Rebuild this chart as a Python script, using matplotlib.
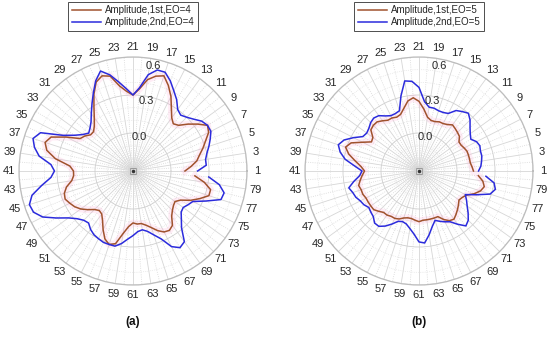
import numpy as np
import matplotlib
matplotlib.use('Agg')
import matplotlib.pyplot as plt

# ---- data ----
positions = np.arange(1, 81)
tick_labels = [str(k) for k in range(1, 80, 2)]
r_ticks = [0.0, 0.3, 0.6]

amp1_eo4 = [0.11, 0.16, 0.21, 0.24, 0.28, 0.32, 0.37, 0.39, 0.33, 0.27,
            0.21, 0.19, 0.22, 0.28, 0.36, 0.43, 0.49, 0.47, 0.43, 0.35,
            0.30, 0.33, 0.38, 0.47, 0.49, 0.46, 0.38, 0.29, 0.22, 0.17,
            0.14, 0.14, 0.17, 0.19, 0.29, 0.40, 0.43, 0.40, 0.32, 0.20,
            0.17, 0.17, 0.19, 0.24, 0.27, 0.28, 0.26, 0.24, 0.21, 0.17,
            0.13, 0.11, 0.12, 0.16, 0.22, 0.28, 0.31, 0.29, 0.20, 0.14,
            0.11, 0.12, 0.12, 0.14, 0.17, 0.21, 0.24, 0.25, 0.23, 0.17,
            0.14, 0.12, 0.11, 0.14, 0.21, 0.27, 0.33, 0.33, 0.27, 0.19]
amp2_eo4 = [0.21, 0.28, 0.28, 0.30, 0.33, 0.36, 0.39, 0.39, 0.37, 0.33,
            0.30, 0.28, 0.30, 0.36, 0.41, 0.47, 0.52, 0.52, 0.47, 0.36,
            0.30, 0.35, 0.41, 0.48, 0.53, 0.47, 0.39, 0.32, 0.26, 0.21,
            0.18, 0.16, 0.19, 0.24, 0.32, 0.49, 0.53, 0.50, 0.45, 0.35,
            0.32, 0.35, 0.43, 0.52, 0.56, 0.55, 0.50, 0.41, 0.33, 0.28,
            0.25, 0.24, 0.27, 0.29, 0.30, 0.31, 0.31, 0.31, 0.28, 0.24,
            0.21, 0.18, 0.17, 0.19, 0.23, 0.28, 0.37, 0.41, 0.39, 0.29,
            0.24, 0.20, 0.19, 0.21, 0.23, 0.32, 0.43, 0.44, 0.39, 0.30]
amp1_eo5 = [0.13, 0.12, 0.11, 0.11, 0.11, 0.11, 0.10, 0.09, 0.09, 0.12,
            0.13, 0.14, 0.15, 0.13, 0.12, 0.12, 0.11, 0.11, 0.13, 0.19,
            0.25, 0.28, 0.26, 0.21, 0.17, 0.16, 0.17, 0.17, 0.19, 0.21,
            0.21, 0.20, 0.15, 0.14, 0.20, 0.28, 0.31, 0.27, 0.21, 0.16,
            0.13, 0.15, 0.17, 0.19, 0.18, 0.18, 0.17, 0.17, 0.17, 0.17,
            0.15, 0.13, 0.13, 0.12, 0.12, 0.11, 0.09, 0.08, 0.08, 0.09,
            0.10, 0.09, 0.09, 0.09, 0.09, 0.09, 0.13, 0.16, 0.17, 0.15,
            0.13, 0.11, 0.09, 0.10, 0.12, 0.17, 0.21, 0.23, 0.21, 0.17]
amp2_eo5 = [0.17, 0.19, 0.20, 0.21, 0.21, 0.22, 0.21, 0.18, 0.20, 0.23,
            0.27, 0.30, 0.28, 0.26, 0.21, 0.20, 0.20, 0.21, 0.21, 0.25,
            0.36, 0.41, 0.42, 0.31, 0.20, 0.19, 0.19, 0.21, 0.24, 0.25,
            0.24, 0.22, 0.21, 0.22, 0.28, 0.34, 0.37, 0.34, 0.29, 0.21,
            0.15, 0.17, 0.22, 0.27, 0.25, 0.24, 0.22, 0.21, 0.19, 0.20,
            0.21, 0.24, 0.24, 0.21, 0.17, 0.13, 0.12, 0.13, 0.16, 0.20,
            0.26, 0.27, 0.21, 0.15, 0.11, 0.13, 0.15, 0.17, 0.22, 0.27,
            0.25, 0.21, 0.17, 0.14, 0.11, 0.19, 0.29, 0.32, 0.30, 0.23]

series_labels_4 = ['Amplitude,1st,EO=4', 'Amplitude,2nd,EO=4']
series_labels_5 = ['Amplitude,1st,EO=5', 'Amplitude,2nd,EO=5']
captions = ['(a)', '(b)']

BROWN = '#a0522d'
BLUE = '#2b2bdc'
TXT = '#262626'

plt.rcParams['font.family'] = ['Liberation Sans', 'DejaVu Sans']

W, H = 550, 337
fig = plt.figure(figsize=(W / 100, H / 100), dpi=100)
R = 114


def make(cx, cy, a1, a2, labels, cap):
    rect = [(cx - R) / W, (H - cy - R) / H, 2 * R / W, 2 * R / H]
    ax = fig.add_axes(rect, projection='polar')
    ax.set_theta_zero_location('E')
    ax.set_theta_direction(1)
    theta = np.deg2rad((positions - 1) * 4.5)

    ax.plot(theta, a1, color='#ff9ecf', lw=5, alpha=0.18, zorder=2)
    l1, = ax.plot(theta, a1, color=BROWN, lw=1.1, label=labels[0], zorder=3)
    l2, = ax.plot(theta, a2, color=BLUE, lw=1.1, label=labels[1], zorder=4)

    ax.set_ylim(-0.3, 0.6)
    ax.set_xticks(np.deg2rad(np.arange(0, 360, 9)))
    ax.set_xticklabels(tick_labels, fontsize=8, color=TXT)
    ax.set_xticks(np.deg2rad(np.arange(4.5, 360, 9)), minor=True)
    ax.set_yticks(r_ticks)
    ax.set_yticklabels([])
    ax.set_yticks([-0.2, -0.1, 0.1, 0.2, 0.4, 0.5], minor=True)
    ax.tick_params(axis='x', which='both', pad=0.5, length=0)
    ax.tick_params(axis='y', which='both', length=0)
    ax.xaxis.grid(True, which='major', color='#d6d6d6', lw=0.6, ls='-')
    ax.xaxis.grid(True, which='minor', color='#d6d6d6', lw=0.6, ls=':')
    ax.yaxis.grid(True, which='major', color='#cfcfcf', lw=0.6, ls='-')
    ax.yaxis.grid(True, which='minor', color='#dcdcdc', lw=0.5, ls=':')
    ax.spines['polar'].set_color('#bdbdbd')
    ax.spines['polar'].set_linewidth(0.9)
    ax.plot([0], [-0.3], marker='s', ms=5, mfc='none', mec='#9a9a9a', mew=0.6, zorder=5)
    ax.plot([0], [-0.3], marker='o', ms=1.5, color='#333333', zorder=6)

    for v in r_ticks:
        ax.text(np.deg2rad(79), v - 0.025 - 0.03 * (v / 0.6), f'{v:.1f}',
                ha='center', va='center', fontsize=8, color=TXT, zorder=7)

    leg = ax.legend(handles=[l1, l2], loc='upper center',
                    bbox_to_anchor=(cx / W, 1 - 2 / H), bbox_transform=fig.transFigure,
                    fontsize=7, frameon=True, fancybox=False, framealpha=1,
                    edgecolor='#4d4d4d', handlelength=3.0, handletextpad=0.4,
                    borderpad=0.35, labelspacing=0.2, borderaxespad=0)
    leg.get_frame().set_linewidth(0.7)
    for t in leg.get_texts():
        t.set_color(TXT)
    fig.text(cx / W, 1 - 322 / H, cap, ha='center', va='center',
             fontsize=8.5, fontweight='bold', color='#111111')


make(133, 171, amp1_eo4, amp2_eo4, series_labels_4, captions[0])
make(419, 171, amp1_eo5, amp2_eo5, series_labels_5, captions[1])

fig.savefig('out.png', dpi=100)
